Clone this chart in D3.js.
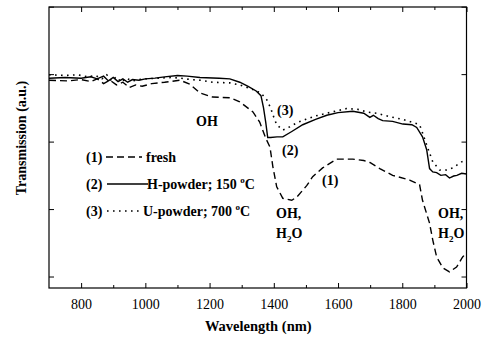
<!DOCTYPE html>
<html>
<head>
<meta charset="utf-8">
<script src="https://cdn.jsdelivr.net/npm/d3@7/dist/d3.min.js"></script>
<style>
  html, body { margin: 0; padding: 0; background: #fff; }
  svg { display: block; }
</style>
</head>
<body>
<svg id="chart" width="486" height="341"></svg>
<script>
// ---- data ----
const xTicks = [800, 1000, 1200, 1400, 1600, 1800, 2000];
const xMinorTicks = [900, 1100, 1300, 1500, 1700, 1900];
const yTicks = [1, 2, 3, 4, 5];

const seriesNames = ["(1)", "(2)", "(3)"];
const seriesLabels = ["fresh", "H-powder; 150 ", "U-powder; 700 "];

// (1) fresh – dashed
const fresh = [
  [700,3.91],[760,3.90],[800,3.92],[830,3.89],[850,3.93],[870,3.86],[890,3.91],[910,3.84],
  [930,3.88],[950,3.80],[970,3.84],[990,3.82],[1020,3.86],[1060,3.88],[1108,3.91],[1139,3.85],
  [1170,3.72],[1210,3.66],[1263,3.65],[1294,3.59],[1335,3.44],[1356,3.29],[1375,3.05],[1388,2.92],
  [1397,2.63],[1409,2.33],[1428,2.16],[1456,2.13],[1472,2.18],[1503,2.35],[1521,2.48],[1552,2.61],
  [1596,2.74],[1646,2.74],[1680,2.72],[1699,2.69],[1730,2.60],[1770,2.50],[1823,2.43],[1854,2.36],
  [1863,2.13],[1885,1.79],[1895,1.54],[1907,1.29],[1926,1.13],[1947,1.07],[1969,1.14],[1988,1.29],[2000,1.35]
];
// (2) H-powder; 150 °C – solid
const hPowder = [
  [700,3.94],[750,3.95],[800,3.94],[830,3.96],[850,3.93],[870,3.97],[885,3.90],[900,3.95],
  [915,3.89],[930,3.93],[945,3.88],[960,3.92],[980,3.91],[1000,3.93],[1030,3.94],[1060,3.96],
  [1100,3.98],[1130,3.97],[1170,3.95],[1230,3.94],[1263,3.93],[1294,3.88],[1320,3.82],[1345,3.75],
  [1360,3.68],[1368,3.50],[1375,3.28],[1381,3.06],[1390,3.06],[1410,3.07],[1428,3.07],[1456,3.15],
  [1490,3.25],[1530,3.33],[1565,3.39],[1600,3.43],[1646,3.45],[1680,3.42],[1699,3.36],[1710,3.39],
  [1725,3.34],[1739,3.31],[1770,3.30],[1802,3.26],[1830,3.25],[1845,3.21],[1863,3.07],[1876,2.88],
  [1885,2.60],[1895,2.55],[1907,2.54],[1920,2.50],[1935,2.51],[1947,2.46],[1960,2.49],[1970,2.50],
  [1985,2.53],[2000,2.52]
];
// (3) U-powder; 700 °C – dotted
const uPowder = [
  [700,3.99],[750,3.98],[790,3.99],[820,3.96],[845,3.98],[865,3.93],[880,3.99],[895,3.90],
  [910,3.96],[925,3.88],[940,3.94],[960,3.90],[980,3.92],[1000,3.93],[1040,3.94],[1080,3.95],
  [1110,3.94],[1140,3.92],[1170,3.91],[1210,3.88],[1263,3.87],[1294,3.84],[1330,3.78],[1360,3.72],
  [1378,3.62],[1390,3.50],[1400,3.36],[1409,3.25],[1428,3.17],[1450,3.22],[1472,3.28],[1500,3.33],
  [1530,3.38],[1565,3.42],[1600,3.46],[1627,3.49],[1660,3.48],[1689,3.44],[1720,3.42],[1761,3.37],
  [1800,3.33],[1835,3.28],[1854,3.25],[1863,3.13],[1876,2.95],[1895,2.70],[1916,2.58],[1938,2.58],
  [1957,2.61],[1985,2.70],[2000,2.73]
];

// ---- layout ----
const FONT = "'Liberation Serif', 'Times New Roman', Times, 'DejaVu Serif', serif";
const svg = d3.select("#chart").style("font-family", FONT);
const W = 486, H = 341;
const m = { left: 49, right: 19.5, top: 7, bottom: 53 };
const x = d3.scaleLinear().domain([700, 2000]).range([m.left, W - m.right]);
const y = d3.scaleLinear().domain([0.83, 4.995]).range([H - m.bottom, m.top]);

const styles = [
  { data: fresh, dash: "7,4", width: 1.4 },
  { data: hPowder, dash: null, width: 1.4 },
  { data: uPowder, dash: "1.6,4.4", width: 1.6 }
];

const line = d3.line().x(d => x(d[0])).y(d => y(d[1])).curve(d3.curveLinear);
const g = svg.append("g");
styles.forEach(s => {
  g.append("path").datum(s.data)
    .attr("d", line)
    .attr("fill", "none")
    .attr("stroke", "#000")
    .attr("stroke-width", s.width)
    .attr("stroke-dasharray", s.dash);
});

// ---- axes ----
const bottom = svg.append("g").attr("transform", `translate(0,${H - m.bottom})`)
  .call(d3.axisBottom(x).tickValues(xTicks).tickSize(-5).tickPadding(11).tickFormat(d3.format("d")));
svg.append("g").attr("transform", `translate(0,${H - m.bottom})`)
  .call(d3.axisBottom(x).tickValues(xMinorTicks).tickSize(-3).tickFormat(""));
svg.append("g").attr("transform", `translate(0,${m.top})`)
  .call(d3.axisTop(x).tickValues(xTicks).tickSize(-5).tickFormat(""));
svg.append("g").attr("transform", `translate(0,${m.top})`)
  .call(d3.axisTop(x).tickValues(xMinorTicks).tickSize(-3).tickFormat(""));
svg.append("g").attr("transform", `translate(${m.left},0)`)
  .call(d3.axisLeft(y).tickValues(yTicks).tickSize(-5).tickFormat(""));
svg.append("g").attr("transform", `translate(${W - m.right},0)`)
  .call(d3.axisRight(y).tickValues(yTicks).tickSize(-5).tickFormat(""));
svg.selectAll(".domain").remove();
svg.selectAll(".tick line").attr("stroke", "#000");
svg.selectAll("g").attr("font-family", null);
bottom.selectAll(".tick text").style("font-size", "14px").style("font-family", FONT);

svg.append("rect")
  .attr("x", m.left).attr("y", m.top)
  .attr("width", W - m.right - m.left).attr("height", H - m.bottom - m.top)
  .attr("fill", "none").attr("stroke", "#000").attr("stroke-width", 1.2);

// axis titles
svg.append("text").attr("x", (m.left + W - m.right) / 2 + 0.5).attr("y", 331)
  .attr("text-anchor", "middle").style("font-family", FONT).style("font-size", "14.5px").style("font-weight", "bold")
  .text("Wavelength (nm)");
svg.append("text").attr("transform", "translate(26,138) rotate(-90)")
  .attr("text-anchor", "middle").style("font-family", FONT).style("font-size", "14px").style("font-weight", "bold")
  .text("Transmission (a.u.)");

// ---- legend ----
const legY = [157, 184, 211];
const lg = svg.append("g").style("font-family", FONT).style("font-size", "14px").style("font-weight", "bold");
const lineX = [[106, 142], [107, 148], [107, 139]];
const textX = [146, 147, 143];
styles.forEach((s, i) => {
  lg.append("text").attr("x", 86).attr("y", legY[i] + 5).text(seriesNames[i]);
  lg.append("line").attr("x1", lineX[i][0]).attr("x2", lineX[i][1])
    .attr("y1", legY[i]).attr("y2", legY[i])
    .attr("stroke", "#000").attr("stroke-width", s.width).attr("stroke-dasharray", s.dash);
  const t = lg.append("text").attr("x", textX[i]).attr("y", legY[i] + 5).text(seriesLabels[i]);
  if (i > 0) {
    t.append("tspan").attr("dy", -6).style("font-size", "9px").text("o");
    t.append("tspan").attr("dy", 6).text("C");
  }
});

// ---- annotations ----
const ann = svg.append("g").style("font-family", FONT).style("font-size", "14px").style("font-weight", "bold");
ann.append("text").attr("x", 196).attr("y", 126).text("OH");
ann.append("text").attr("x", 277).attr("y", 115).text("(3)");
ann.append("text").attr("x", 282).attr("y", 155).text("(2)");
ann.append("text").attr("x", 322).attr("y", 185).text("(1)");
ann.append("text").attr("x", 276).attr("y", 218).text("OH,");
const h1 = ann.append("text").attr("x", 276).attr("y", 238).text("H");
h1.append("tspan").attr("dy", 4).style("font-size", "9px").text("2");
h1.append("tspan").attr("dy", -4).text("O");
ann.append("text").attr("x", 438).attr("y", 218).text("OH,");
const h2 = ann.append("text").attr("x", 438).attr("y", 238).text("H");
h2.append("tspan").attr("dy", 4).style("font-size", "9px").text("2");
h2.append("tspan").attr("dy", -4).text("O");
</script>
</body>
</html>
